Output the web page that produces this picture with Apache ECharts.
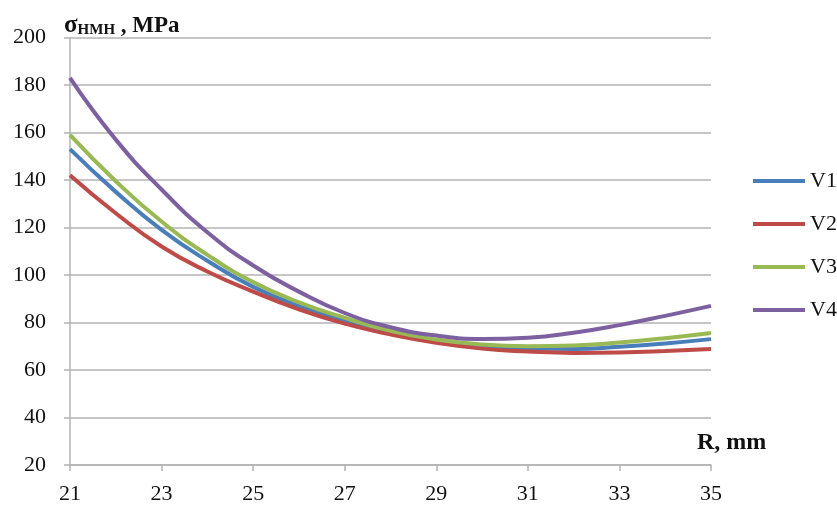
<!DOCTYPE html>
<html>
<head>
<meta charset="utf-8">
<script src="https://cdn.jsdelivr.net/npm/echarts@6/dist/echarts.min.js"></script>
<style>
  html, body { margin: 0; padding: 0; background: #fff; }
  #chart { width: 837px; height: 508px; }
</style>
</head>
<body>
<div id="chart"></div>
<script>
// R, mm
var radius = ["21", "22", "23", "24", "25", "26", "27", "28", "29", "30", "31", "32", "33", "34", "35"];
// stress values
var v1 = [153, 135, 119, 106, 95, 87, 81, 75.5, 72, 70, 69, 68.8, 69.8, 71.2, 73];
var v2 = [142, 126, 112, 101.5, 93, 85.5, 79.5, 75, 71.5, 69, 67.8, 67.2, 67.4, 68, 68.8];
var v3 = [159, 139.5, 122.5, 108.5, 97, 88.5, 82, 76.5, 72.8, 70.7, 70, 70.3, 71.6, 73.4, 75.6];
var v4 = [183, 157, 136, 118, 104, 93, 84, 78, 74.5, 73.1, 73.6, 75.7, 78.9, 82.8, 87];

var serif = "Liberation Serif";
var gray = "#b3b3b3";

var myChart = echarts.init(document.getElementById("chart"));

function line(name, data, color) {
  return {
    name: name,
    type: "line",
    data: data,
    smooth: 0.5,
    showSymbol: false,
    lineStyle: { color: color, width: 4 },
    itemStyle: { color: color },
  };
}

myChart.setOption({
  animation: false,
  title: {
    left: 59,
    top: 7,
    text: "{s|σ}{sub|HMH}{b| , MPa}",
    textStyle: {
      rich: {
        s: { fontFamily: serif, fontSize: 25, fontWeight: "bold", color: "#111", lineHeight: 26, verticalAlign: "bottom" },
        sub: { fontFamily: serif, fontSize: 15, fontWeight: "bold", color: "#111", lineHeight: 26, verticalAlign: "bottom", padding: [6, 0, 0, 0] },
        b: { fontFamily: serif, fontSize: 23, fontWeight: "bold", color: "#111", lineHeight: 26, verticalAlign: "bottom" },
      },
    },
  },
  graphic: [
    {
      type: "text",
      left: 697,
      top: 431,
      style: { text: "R, mm", font: "bold 24px 'Liberation Serif'", fill: "#111" },
    },
  ],
  legend: {
    orient: "vertical",
    left: 748,
    top: 165,
    icon: "rect",
    itemWidth: 52,
    itemHeight: 4,
    itemGap: 21,
    textStyle: { fontFamily: serif, fontSize: 22, color: "#111", lineHeight: 22 },
    data: ["V1", "V2", "V3", "V4"],
  },
  grid: { left: 70, right: 126, top: 37.5, bottom: 43 },
  xAxis: {
    type: "category",
    data: radius,
    boundaryGap: false,
    axisLine: { lineStyle: { color: gray, width: 1.5 } },
    axisTick: { interval: 1, length: 6, lineStyle: { color: gray, width: 1.5 } },
    axisLabel: { interval: 1, margin: 18, fontFamily: serif, fontSize: 22, color: "#111" },
    splitLine: { show: false },
  },
  yAxis: {
    type: "value",
    min: 20,
    max: 200,
    interval: 20,
    axisLine: { show: true, lineStyle: { color: gray, width: 1.5 } },
    axisTick: { show: true, length: 6, lineStyle: { color: gray, width: 1.5 } },
    axisLabel: { margin: 24, fontFamily: serif, fontSize: 22, color: "#111" },
    splitLine: { lineStyle: { color: gray, width: 1.5 } },
  },
  series: [
    line("V1", v1, "#4a7ebb"),
    line("V2", v2, "#be4b48"),
    line("V3", v3, "#98b954"),
    line("V4", v4, "#7d60a0"),
  ],
});
</script>
</body>
</html>
